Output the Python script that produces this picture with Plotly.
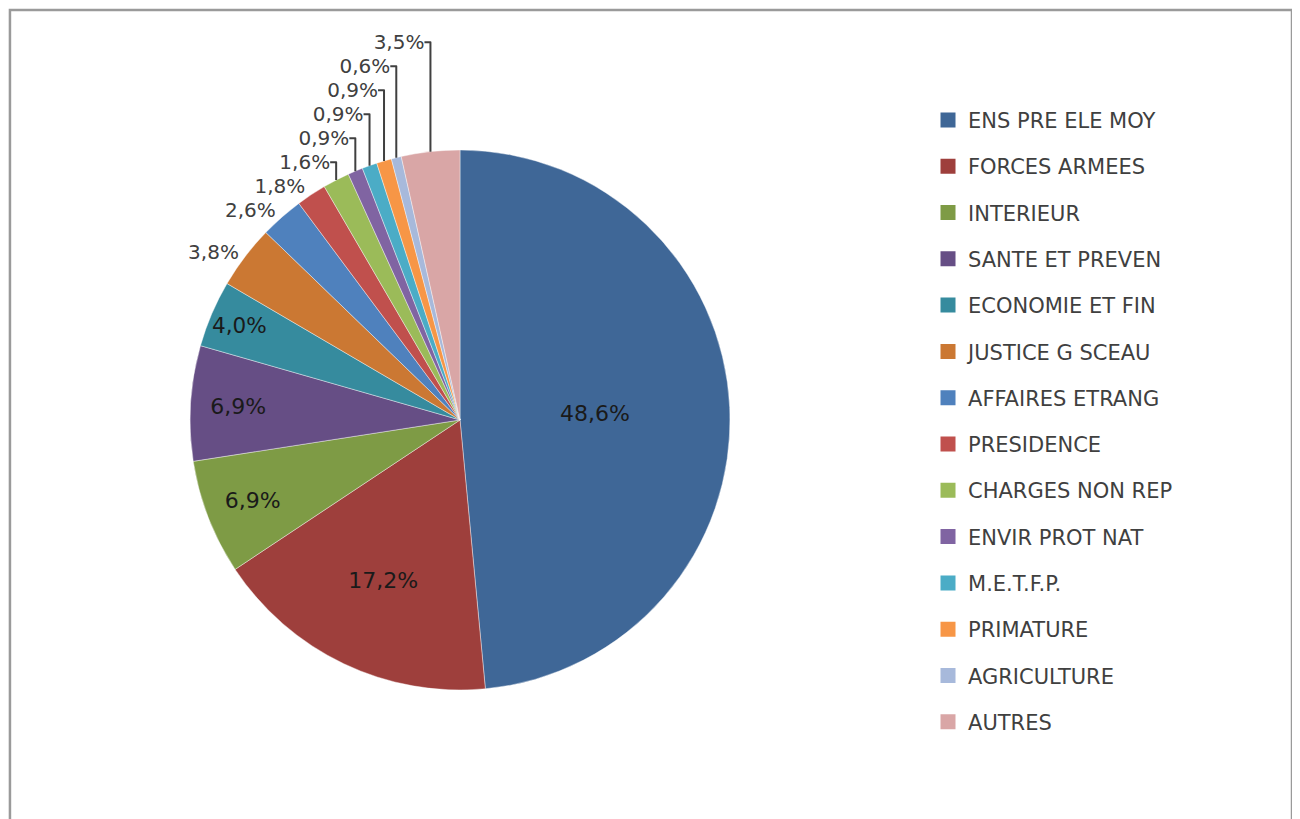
import plotly.graph_objects as go

categories = ["ENS PRE ELE MOY", "FORCES ARMEES", "INTERIEUR", "SANTE ET PREVEN",
              "ECONOMIE ET FIN", "JUSTICE G SCEAU", "AFFAIRES ETRANG", "PRESIDENCE",
              "CHARGES NON REP", "ENVIR PROT NAT", "M.E.T.F.P.", "PRIMATURE",
              "AGRICULTURE", "AUTRES"]
shares = [48.6, 17.2, 6.9, 6.9, 4.0, 3.8, 2.6, 1.8, 1.6, 0.9, 0.9, 0.9, 0.6, 3.5]
colors = ["#3F6797", "#9E3F3C", "#7E9B45", "#664E85", "#368B9E", "#CB7833",
          "#4F81BD", "#C0504D", "#9BBB59", "#8064A2", "#4BACC6", "#F79646",
          "#A7B9DB", "#D9A6A6"]
text_pos = ["inside"] * 5 + ["outside"] * 9

FONT = "DejaVu Sans"

fig = go.Figure()
fig.add_trace(go.Pie(
    labels=categories, values=shares, sort=False, direction="clockwise",
    rotation=0, marker=dict(colors=colors, line=dict(color="rgba(255,255,255,0.5)", width=0.8)),
    texttemplate="%{value:.1f}%", textposition=text_pos,
    insidetextfont=dict(family=FONT, size=22, color="#1a1a1a"),
    outsidetextfont=dict(family=FONT, size=20, color="#404040"),
    insidetextorientation="horizontal",
    showlegend=False, hoverinfo="label+percent",
    domain=dict(x=[0.14, 0.5554], y=[0.1673, 0.8266]),
))
for name, col in zip(categories, colors):
    fig.add_trace(go.Scatter(
        x=[None], y=[None], mode="markers", name=name, legendgroup=name,
        marker=dict(symbol="square", size=15, color=col), showlegend=True))

fig.update_layout(
    width=1300, height=819, separators=", ",
    paper_bgcolor="white", plot_bgcolor="white",
    margin=dict(l=0, r=0, t=0, b=0),
    xaxis=dict(visible=False), yaxis=dict(visible=False),
    legend=dict(x=0.7077, y=0.888, xanchor="left", yanchor="top",
                font=dict(family=FONT, size=21, color="#404040"),
                tracegroupgap=16, bgcolor="rgba(0,0,0,0)"),
    shapes=[dict(type="rect", xref="paper", yref="paper",
                 x0=0.0015, x1=0.9877, y0=-0.05, y1=0.9976,
                 line=dict(color="#9a9a9a", width=2.5))],
)
fig.write_html("out.html")
